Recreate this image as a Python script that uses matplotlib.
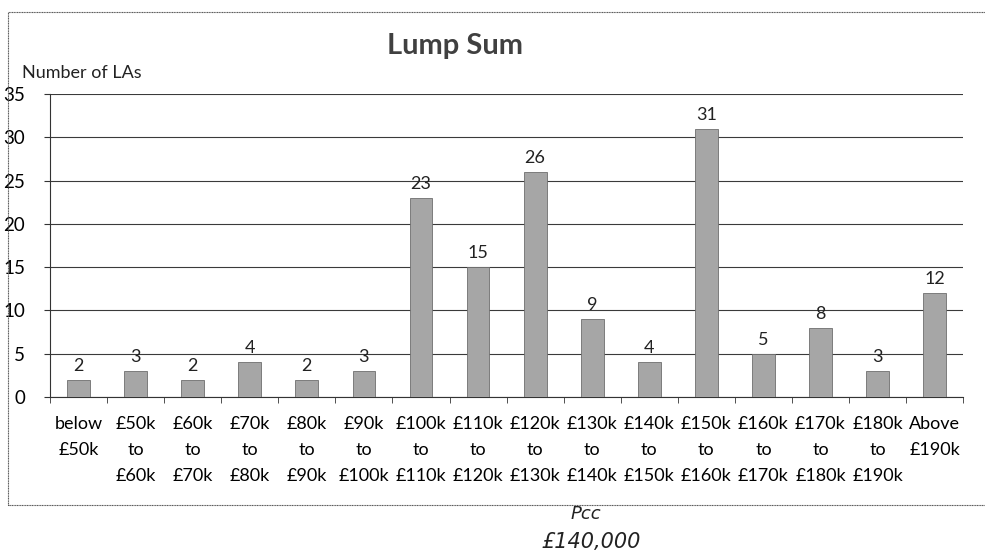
import matplotlib
matplotlib.use('Agg')
import matplotlib.pyplot as plt
from matplotlib.patches import Rectangle
import numpy as np

plt.rcParams['font.family'] = ['Lato', 'DejaVu Sans']

categories = ['below\n£50k', '£50k\nto\n£60k', '£60k\nto\n£70k', '£70k\nto\n£80k',
              '£80k\nto\n£90k', '£90k\nto\n£100k', '£100k\nto\n£110k', '£110k\nto\n£120k',
              '£120k\nto\n£130k', '£130k\nto\n£140k', '£140k\nto\n£150k', '£150k\nto\n£160k',
              '£160k\nto\n£170k', '£170k\nto\n£180k', '£180k\nto\n£190k', 'Above\n£190k']
counts = [2, 3, 2, 4, 2, 3, 23, 15, 26, 9, 4, 31, 5, 8, 3, 12]
y_ticks = [0, 5, 10, 15, 20, 25, 30, 35]

fig = plt.figure(figsize=(9.85, 5.6), dpi=100)
ax = fig.add_axes([0.0508, 0.291, 0.927, 0.541])

x = np.arange(len(categories))
ax.bar(x, counts, width=0.4, color='#a6a6a6', edgecolor='#6e6e6e', linewidth=0.6, zorder=3)
for xi, v in zip(x, counts):
    ax.text(xi, v + 0.7, str(v), ha='center', va='bottom', fontsize=13, color='#222222', zorder=4)

ax.set_xlim(-0.5, len(categories) - 0.5)
ax.set_ylim(0, 35)
ax.set_yticks(y_ticks)
ax.set_yticklabels([str(t) for t in y_ticks], fontsize=13.5)
ax.yaxis.grid(True, color='#3a3a3a', linewidth=0.8, zorder=0)
ax.set_axisbelow(True)

ax.set_xticks(x)
ax.set_xticklabels(categories, fontsize=13, linespacing=1.75, va='top')
ax.tick_params(axis='x', which='major', length=0, pad=14)
ax.set_xticks(np.arange(-0.5, len(categories), 1), minor=True)
ax.tick_params(axis='x', which='minor', length=4, direction='out', color='#333333')
ax.tick_params(axis='y', length=4, color='#333333', pad=14)

for side in ['top', 'right']:
    ax.spines[side].set_visible(False)
ax.spines['left'].set_color('#333333')
ax.spines['bottom'].set_color('#333333')

fig.text(0.462, 0.918, 'Lump Sum', ha='center', va='center', fontsize=21, fontweight='bold', color='#404040')
fig.text(0.022, 0.87, 'Number of LAs', ha='left', va='center', fontsize=13, color='#222222')

# outer chart border
fig.patches.append(Rectangle((0.008, 0.098), 1.0, 0.88, transform=fig.transFigure,
                             fill=False, edgecolor='#555555', linewidth=0.8, linestyle=(0, (1, 0.5))))

# handwritten note below the chart
fig.text(0.595, 0.082, 'Pcc', ha='center', va='center', fontsize=13, style='italic',
         family='DejaVu Sans', color='#222222')
fig.text(0.6, 0.033, '£140,000', ha='center', va='center', fontsize=15, style='italic',
         family='DejaVu Sans', color='#222222')

fig.savefig('out.png', dpi=100)
